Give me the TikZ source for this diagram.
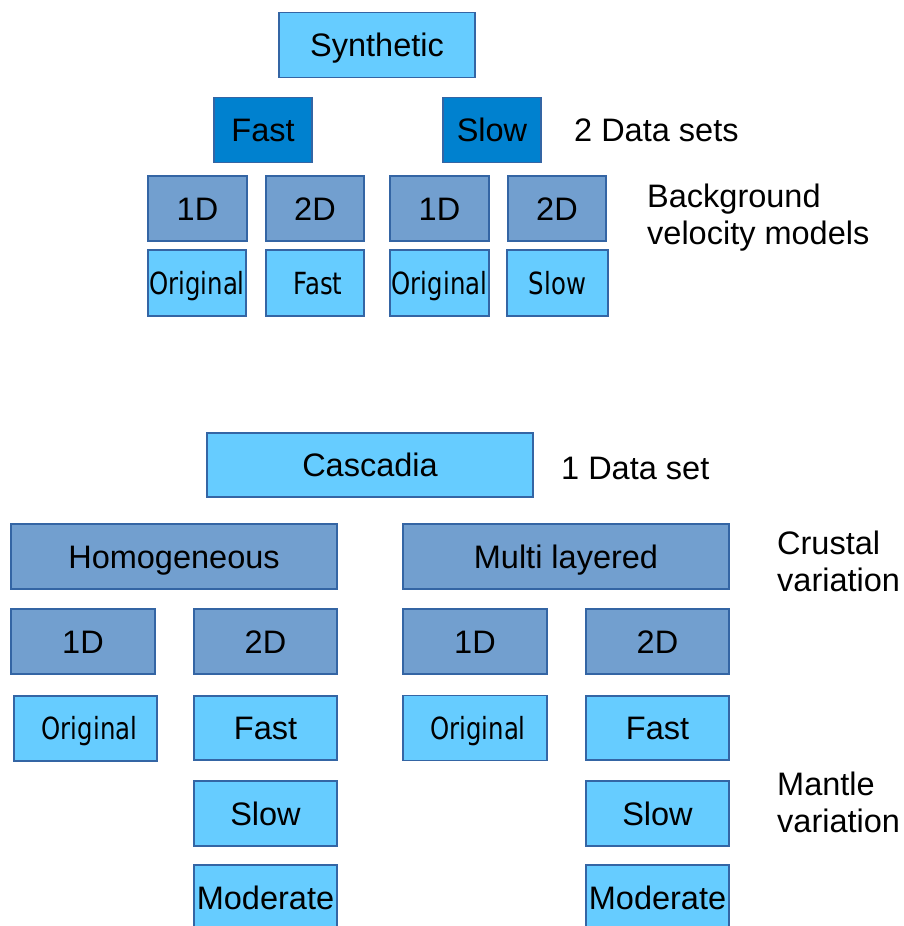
\documentclass[tikz,border=0pt]{standalone}
\usepackage{fontspec}
\setmainfont{Liberation Sans}
\newfontfamily\condfont[FakeStretch=0.8]{DejaVu Sans}
\definecolor{lightb}{HTML}{66CCFF}
\definecolor{darkb}{HTML}{0081CF}
\definecolor{midb}{HTML}{729FCF}
\definecolor{edgeb}{HTML}{3465A4}
\tikzset{
  box/.style={draw=edgeb, line width=1.4pt, inner sep=0pt, font=\fontsize{32.5}{37}\selectfont, text=black, text height=23.3pt, text depth=0pt},
  lbox/.style={box, fill=lightb},
  dbox/.style={box, fill=darkb},
  mbox/.style={box, fill=midb},
  cbox/.style={lbox, font=\fontsize{30.5}{34}\condfont, text height=22.2pt},
  lbl/.style={anchor=west, align=left, inner sep=0pt, font=\fontsize{32.5}{37}\selectfont}
}
\begin{document}
\begin{tikzpicture}[x=1pt,y=-1pt]
\clip (0,0) rectangle (904,926);
\fill[white] (0,0) rectangle (904,926);
% Synthetic tree
\node[lbox, minimum width=196, minimum height=65] (syn) at (377,45) {Synthetic};
\node[dbox, minimum width=98, minimum height=65] (sfast) at (263,130) {Fast};
\node[dbox, minimum width=98, minimum height=65] (sslow) at (492,130) {Slow};
\node[lbl] (l2ds) at (574,130) {2 Data sets};
\node[mbox, minimum width=99, minimum height=65] (s1a) at (197.5,208.5) {1D};
\node[mbox, minimum width=98, minimum height=65] (s2a) at (315,208.5) {2D};
\node[mbox, minimum width=99, minimum height=65] (s1b) at (439.5,208.5) {1D};
\node[mbox, minimum width=98, minimum height=65] (s2b) at (557,208.5) {2D};
\node[lbl] (lbg) at (647,218) {Background\\velocity models};
\node[cbox, minimum width=98, minimum height=66] (so1) at (197,283) {Original};
\node[cbox, minimum width=98, minimum height=66] (sof) at (315,283) {\hspace*{6pt}Fast};
\node[cbox, minimum width=99, minimum height=66] (so2) at (439.5,283) {Original};
\node[cbox, minimum width=101, minimum height=66] (sos) at (557.5,283) {Slow};
% Cascadia tree
\node[lbox, minimum width=326, minimum height=64] (cas) at (370,465) {Cascadia};
\node[lbl] (l1ds) at (561,468) {1 Data set};
\node[mbox, minimum width=326, minimum height=65] (hom) at (174,556.5) {Homogeneous};
\node[mbox, minimum width=326, minimum height=65] (mul) at (566,556.5) {Multi layered};
\node[lbl] (lcr) at (777,561.5) {Crustal\\variation};
\node[mbox, minimum width=144, minimum height=65] (h1) at (83,641.5) {1D};
\node[mbox, minimum width=143, minimum height=65] (h2) at (265.5,641.5) {2D};
\node[mbox, minimum width=144, minimum height=65] (m1) at (475,641.5) {1D};
\node[mbox, minimum width=143, minimum height=65] (m2) at (657.5,641.5) {2D};
\node[cbox, minimum width=143, minimum height=65] (ho) at (85.5,728.5) {\hspace*{8pt}Original};
\node[lbox, minimum width=143, minimum height=64] (hf) at (265.5,728) {Fast};
\node[cbox, minimum width=144, minimum height=65] (mo) at (475,728) {\hspace*{6pt}Original};
\node[lbox, minimum width=143, minimum height=64] (mf) at (657.5,728) {Fast};
\node[lbox, minimum width=143, minimum height=65] (hs) at (265.5,813.5) {Slow};
\node[lbox, minimum width=143, minimum height=65] (ms) at (657.5,813.5) {Slow};
\node[lbox, minimum width=143, minimum height=66] (hm) at (265.5,898) {Moderate};
\node[lbox, minimum width=143, minimum height=66] (mm) at (657.5,898) {Moderate};
\node[lbl] (lma) at (777,802.5) {Mantle\\variation};
\end{tikzpicture}
\end{document}
